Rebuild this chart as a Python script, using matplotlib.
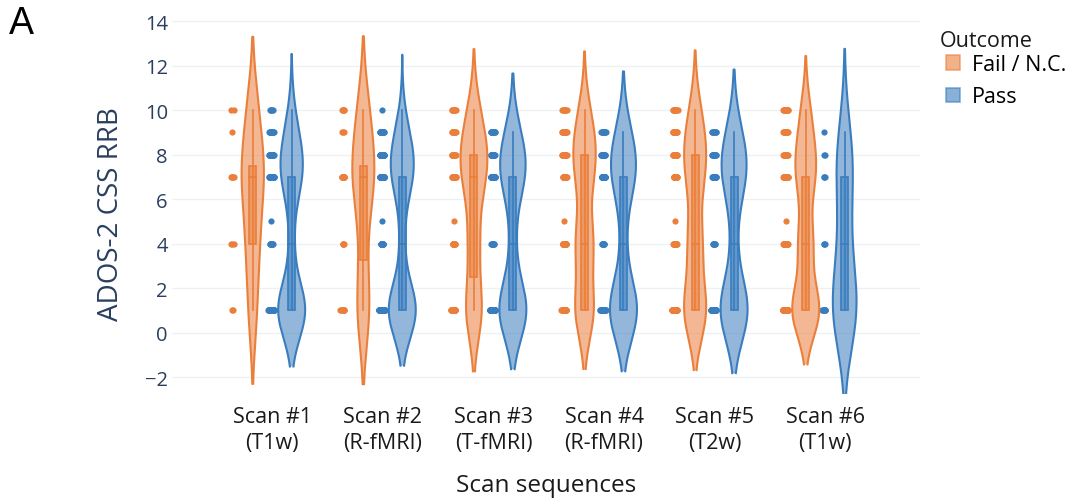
import numpy as np
import matplotlib
matplotlib.use('Agg')
import matplotlib.pyplot as plt
from matplotlib.patches import Patch, Rectangle

plt.rcParams['font.family'] = ['Open Sans', 'DejaVu Sans']

# ADOS-2 CSS RRB scores that occur in the cohort
scores = np.array([1, 4, 5, 7, 8, 9, 10])

scan_labels = ['Scan #1\n(T1w)', 'Scan #2\n(R-fMRI)', 'Scan #3\n(T-fMRI)',
               'Scan #4\n(R-fMRI)', 'Scan #5\n(T2w)', 'Scan #6\n(T1w)']

# number of participants at each score, one row per scan
fail_counts = [
    [2, 3, 0, 5, 0, 1, 2],
    [8, 4, 0, 13, 0, 3, 5],
    [22, 14, 1, 20, 14, 10, 7],
    [30, 27, 1, 15, 16, 12, 7],
    [40, 24, 1, 18, 16, 12, 9],
    [70, 36, 1, 35, 16, 13, 13],
]
pass_counts = [
    [80, 12, 1, 41, 22, 15, 5],
    [80, 12, 1, 41, 24, 17, 1],
    [52, 10, 0, 30, 17, 11, 0],
    [46, 8, 0, 26, 14, 10, 0],
    [39, 7, 0, 22, 12, 8, 0],
    [8, 3, 0, 3, 2, 1, 0],
]

outcomes = ['Fail / N.C.', 'Pass']
line_colors = ['#EA7F3B', '#3A7DBF']

VIOLIN_OFFSET = 0.176   # distance of each violin from the category centre
HALF_WIDTH = 0.122      # widest half-width of a violin
BOX_HALF = 0.032
POINT_SHIFT = -0.183    # points drawn to the left of each violin
JITTER = 0.054


def expand(counts):
    return np.repeat(scores, counts).astype(float)


def silverman(vals, q1, q3):
    sd = np.std(vals, ddof=1)
    return 1.059 * min(sd, (q3 - q1) / 1.349) * len(vals) ** -0.2


def kde(vals, bw, grid):
    z = (grid[:, None] - vals[None, :]) / bw
    return np.exp(-0.5 * z ** 2).sum(1) / (len(vals) * bw * np.sqrt(2 * np.pi))


def jitter(vals, q1, q3):
    # denser neighbourhoods get a wider spread
    n = len(vals)
    spacing = (q3 - q1) * 0.01
    fac = np.zeros(n)
    for i in range(n):
        i0, i1 = max(0, i - 5), min(n - 1, i + 5)
        f = np.sqrt(spacing * (i1 - i0) / (vals[i1] - vals[i0] + spacing))
        fac[i] = min(f, 1.0)
    fac /= fac.max()
    off = np.zeros(n)
    for s in np.unique(vals):
        idx = np.where(vals == s)[0]
        c = len(idx)
        if c > 1:
            u = (np.arange(c) + 0.5) / c - 0.5
            off[idx] = u * fac[idx] * JITTER
    return off


fig = plt.figure(figsize=(10.71, 5.02), dpi=100)
ax = fig.add_axes([172 / 1071, 1 - 395 / 502, 748 / 1071, 383 / 502])

for k in range(len(scan_labels)):
    groups = []
    for j, counts in enumerate([fail_counts[k], pass_counts[k]]):
        vals = np.sort(expand(counts))
        q1, med, q3 = np.percentile(vals, [25, 50, 75], method='hazen')
        bw = silverman(vals, q1, q3)
        grid = np.linspace(vals.min() - 2 * bw, vals.max() + 2 * bw, 300)
        dens = kde(vals, bw, grid)
        groups.append((vals, q1, med, q3, grid, dens))
    top = max(g[5].max() for g in groups)

    for j, (vals, q1, med, q3, grid, dens) in enumerate(groups):
        col = line_colors[j]
        pos = k + (-VIOLIN_OFFSET if j == 0 else VIOLIN_OFFSET)
        w = dens / top * HALF_WIDTH

        ax.scatter(pos + POINT_SHIFT + jitter(vals, q1, q3), vals, s=20,
                   color=col, linewidths=0, zorder=3)

        ax.fill_betweenx(grid, pos - w, pos + w, facecolor=col, alpha=0.55,
                         lw=0, zorder=2)
        ax.plot(np.r_[pos - w, (pos + w)[::-1]], np.r_[grid, grid[::-1]],
                color=col, lw=1.5, zorder=4)

        iqr = q3 - q1
        lo = vals[vals >= q1 - 1.5 * iqr].min()
        hi = vals[vals <= q3 + 1.5 * iqr].max()
        ax.plot([pos, pos], [lo, hi], color=col, lw=1.2, zorder=4)
        ax.add_patch(Rectangle((pos - BOX_HALF, q1), 2 * BOX_HALF, q3 - q1,
                               facecolor=col, alpha=0.55, lw=0, zorder=5))
        ax.add_patch(Rectangle((pos - BOX_HALF, q1), 2 * BOX_HALF, q3 - q1,
                               facecolor='none', edgecolor=col, lw=1.2, zorder=6))
        ax.plot([pos - BOX_HALF, pos + BOX_HALF], [med, med], color=col,
                lw=1.2, zorder=6)

ax.set_xlim(-0.906, 5.857)
ax.set_ylim(-2.76, 14.45)
ax.set_yticks(range(-2, 15, 2))
ax.set_xticks(range(len(scan_labels)))
ax.set_xticklabels(scan_labels, fontsize=15.5, color='#1a1a1a', linespacing=1.3)
ax.tick_params(axis='y', labelsize=14.5, labelcolor='#2a3f5f', length=0, pad=3)
ax.tick_params(axis='x', length=0, pad=9)
ax.yaxis.grid(True, color='#EEF0F4', lw=1)
ax.set_axisbelow(True)
for sp in ax.spines.values():
    sp.set_visible(False)

ax.set_ylabel('ADOS-2 CSS RRB', fontsize=20, color='#2a3f5f')
ax.yaxis.set_label_coords(-0.063, 0.4726)
ax.set_xlabel('Scan sequences', fontsize=17.5, color='#1a1a1a', labelpad=14)

handles = [Patch(facecolor=c, edgecolor=c, alpha=0.6, lw=1.2) for c in line_colors]
fig.text(940 / 1071, 1 - 47 / 502, 'Outcome', fontsize=15.5, color='#1a1a1a',
         ha='left', va='baseline')
fig.legend(handles, outcomes, loc='upper left',
           bbox_to_anchor=(946 / 1071, 1 - 55 / 502), frameon=False,
           fontsize=15.5, handlelength=0.65, handleheight=0.65,
           handletextpad=0.55, labelspacing=0.53, borderaxespad=0, borderpad=0)

fig.text(9 / 1071, 1 - 6 / 502, 'A', fontsize=27, va='top', ha='left',
         family='Liberation Sans')

fig.savefig('out.png', dpi=100)
